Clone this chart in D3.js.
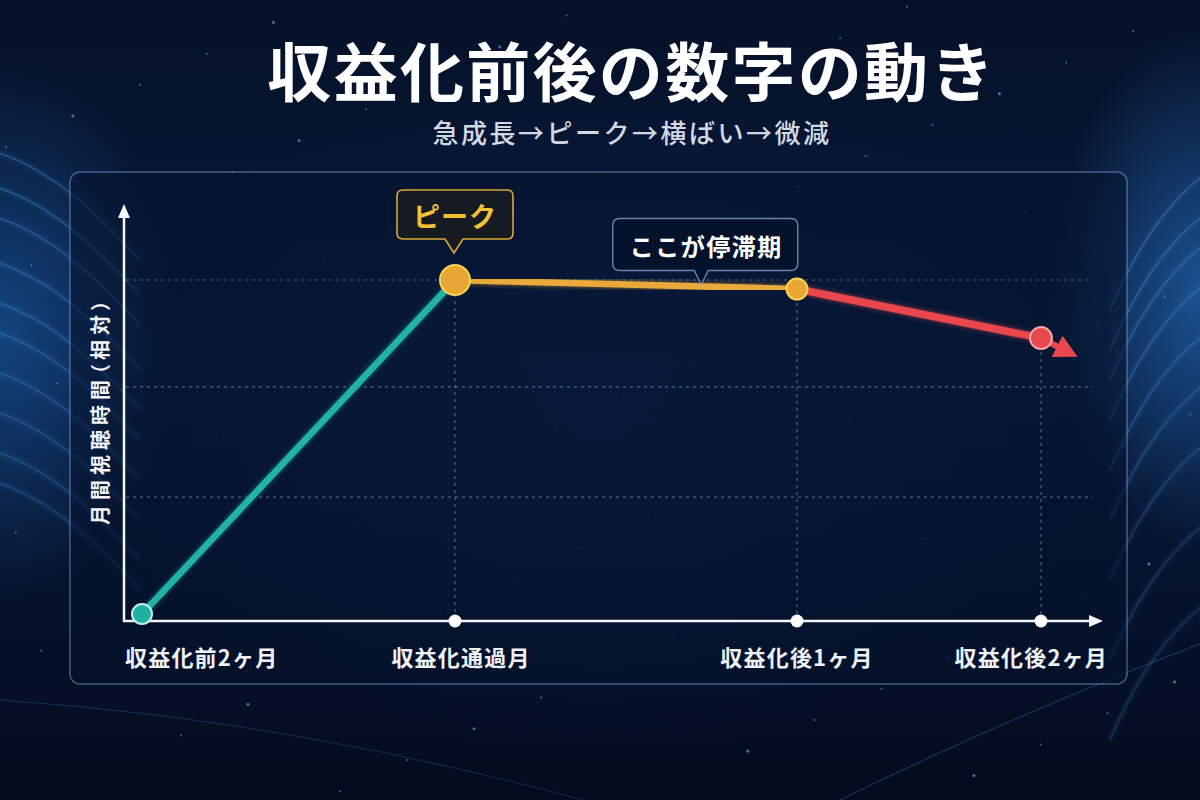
<!DOCTYPE html>
<html lang="ja">
<head>
<meta charset="utf-8">
<script src="https://cdn.jsdelivr.net/npm/d3@7/dist/d3.min.js"></script>
<style>
  html, body { margin: 0; padding: 0; background: #050e24; }
  svg { display: block; }
  text { font-family: "Noto Sans CJK JP", "Noto Sans", sans-serif; }
</style>
</head>
<body>
<svg id="chart" width="1200" height="800"></svg>
<script>
// ---------------- data ----------------
const categories = ["収益化前2ヶ月", "収益化通過月", "収益化後1ヶ月", "収益化後2ヶ月"];
const values = [0, 100, 97.3, 82.6];          // 月間視聴時間（相対）
const trendValue = 77;                         // where the downward arrow points
const gridValues = [35, 68, 100];
const segmentColors = ["#20b2a6", "#eaa93b", "#e8474d"];
const pointFills = ["#1fb0a4", "#e8a634", "#e8a634", "#e64a50"];
const pointStrokes = ["#c4eeea", "#f8d35a", "#f8d35a", "#f7a5a5"];
const title = "収益化前後の数字の動き";
const subtitle = "急成長→ピーク→横ばい→微減";
const yLabel = "月間視聴時間（相対）";
const peakLabel = "ピーク";
const plateauLabel = "ここが停滞期";

// ---------------- setup ----------------
const W = 1200, H = 800;
const svg = d3.select("#chart");
const defs = svg.append("defs");

const x = d3.scaleLinear().domain([0, 1, 2, 3]).range([142, 455, 797, 1041]);
const y = d3.scaleLinear().domain([0, 100]).range([614, 280]);
const axisY = 621, axisX = 124;

// ---------------- background ----------------
const bg = defs.append("linearGradient").attr("id", "bg").attr("x1", 0).attr("y1", 0).attr("x2", 0).attr("y2", 1);
bg.append("stop").attr("offset", "0%").attr("stop-color", "#061128");
bg.append("stop").attr("offset", "45%").attr("stop-color", "#081a3b");
bg.append("stop").attr("offset", "100%").attr("stop-color", "#040b1e");
svg.append("rect").attr("width", W).attr("height", H).attr("fill", "url(#bg)");

function radial(id, color, op) {
  const g = defs.append("radialGradient").attr("id", id);
  g.append("stop").attr("offset", "0%").attr("stop-color", color).attr("stop-opacity", op);
  g.append("stop").attr("offset", "100%").attr("stop-color", color).attr("stop-opacity", 0);
}
radial("glowL", "#1f6fc4", 0.5);
radial("glowR", "#2a7fd6", 0.55);
radial("glowC", "#0f2a5a", 0.5);
svg.append("ellipse").attr("cx", 600).attr("cy", 420).attr("rx", 520).attr("ry", 330).attr("fill", "url(#glowC)");
svg.append("ellipse").attr("cx", 0).attr("cy", 330).attr("rx", 180).attr("ry", 270).attr("fill", "url(#glowL)");
svg.append("ellipse").attr("cx", 1200).attr("cy", 290).attr("rx", 150).attr("ry", 260).attr("fill", "url(#glowR)");

const blur = defs.append("filter").attr("id", "blur").attr("x", "-20%").attr("y", "-20%").attr("width", "140%").attr("height", "140%");
blur.append("feGaussianBlur").attr("stdDeviation", 2.2);

const streaks = svg.append("g");
// left streaks
[150, 185, 215, 260, 300, 330, 370, 410, 450, 480].forEach((y0, i) => {
  const p = `M -10 ${y0} C 40 ${y0 + 15}, 80 ${y0 + 45}, 140 ${y0 + 110}`;
  streaks.append("path").attr("d", p).attr("fill", "none")
    .attr("stroke", "#4aa3ff").attr("stroke-width", 3).attr("opacity", 0.2).attr("filter", "url(#blur)");
  streaks.append("path").attr("d", p).attr("fill", "none")
    .attr("stroke", "#7cc0ff").attr("stroke-width", 0.9).attr("opacity", 0.4 - i * 0.02);
});
// right streaks
[170, 210, 240, 280, 330, 380, 440, 520, 600].forEach((y0, i) => {
  const p = `M 1210 ${y0} C 1170 ${y0 + 30}, 1140 ${y0 + 70}, 1110 ${y0 + 140}`;
  streaks.append("path").attr("d", p).attr("fill", "none")
    .attr("stroke", "#4aa3ff").attr("stroke-width", 3).attr("opacity", 0.2).attr("filter", "url(#blur)");
  streaks.append("path").attr("d", p).attr("fill", "none")
    .attr("stroke", "#80c4ff").attr("stroke-width", 0.9).attr("opacity", 0.4 - i * 0.025);
});
// faint bottom arcs
streaks.append("path").attr("d", "M 0 700 Q 300 720 620 810").attr("fill", "none")
  .attr("stroke", "#3d7fd0").attr("stroke-width", 1).attr("opacity", 0.3);
streaks.append("path").attr("d", "M 820 810 Q 1000 720 1210 640").attr("fill", "none")
  .attr("stroke", "#3d7fd0").attr("stroke-width", 1.2).attr("opacity", 0.35);

// stars (deterministic low-discrepancy scatter, decoration only)
const stars = svg.append("g");
for (let k = 1; k <= 90; k++) {
  const sx = ((k * 0.6180339887) % 1) * W;
  const sy = ((k * 0.7548776662) % 1) * H;
  const inPanel = sx > 70 && sx < 1127 && sy > 172 && sy < 684;
  stars.append("circle").attr("cx", sx).attr("cy", sy)
    .attr("r", (k % 3 === 0) ? 1.6 : 1)
    .attr("fill", "#6fb6ff").attr("opacity", inPanel ? 0.18 : 0.55);
}

// ---------------- titles ----------------
svg.append("text").attr("x", 632).attr("y", 68)
  .attr("text-anchor", "middle").attr("dominant-baseline", "central")
  .attr("font-size", 64).attr("font-weight", 700).attr("letter-spacing", 2.3)
  .attr("fill", "#ffffff")
  .text(title);
svg.append("text").attr("x", 632).attr("y", 131)
  .attr("text-anchor", "middle").attr("dominant-baseline", "central")
  .attr("font-size", 26).attr("font-weight", 500).attr("letter-spacing", 2.5)
  .attr("fill", "#d3d9e4")
  .text(subtitle);

// ---------------- panel ----------------
svg.append("rect").attr("x", 70).attr("y", 172).attr("width", 1057).attr("height", 512).attr("rx", 10)
  .attr("fill", "rgba(6,18,44,0.55)").attr("stroke", "rgba(135,165,215,0.5)").attr("stroke-width", 1.5);

const plot = svg.append("g");

// horizontal dashed grid
plot.selectAll(".grid").data(gridValues).join("line")
  .attr("x1", axisX + 2).attr("x2", 1093)
  .attr("y1", d => y(d)).attr("y2", d => y(d))
  .attr("stroke", "rgba(150,175,215,0.5)").attr("stroke-width", 1.2).attr("stroke-dasharray", "3 4");

// vertical dashed guides
plot.selectAll(".vguide").data(values.slice(1)).join("line")
  .attr("x1", (d, i) => x(i + 1)).attr("x2", (d, i) => x(i + 1))
  .attr("y1", d => y(d)).attr("y2", axisY)
  .attr("stroke", "rgba(150,175,215,0.5)").attr("stroke-width", 1.2).attr("stroke-dasharray", "3 4");

// axes
plot.append("line").attr("x1", axisX).attr("x2", axisX).attr("y1", axisY + 1).attr("y2", 216)
  .attr("stroke", "#f4f6fa").attr("stroke-width", 2.5);
plot.append("path").attr("d", `M ${axisX} 204 L ${axisX - 6} 218 L ${axisX + 6} 218 Z`).attr("fill", "#f4f6fa");
plot.append("line").attr("x1", axisX - 1).attr("x2", 1091).attr("y1", axisY).attr("y2", axisY)
  .attr("stroke", "#f4f6fa").attr("stroke-width", 2.5);
plot.append("path").attr("d", `M 1103 ${axisY} L 1089 ${axisY - 6} L 1089 ${axisY + 6} Z`).attr("fill", "#f4f6fa");

// line glow
const lglow = defs.append("filter").attr("id", "lglow").attr("x", "-10%").attr("y", "-10%").attr("width", "120%").attr("height", "120%");
lglow.append("feGaussianBlur").attr("in", "SourceGraphic").attr("stdDeviation", 2.5).attr("result", "b");
lglow.append("feComponentTransfer").attr("in", "b").attr("result", "b2")
  .append("feFuncA").attr("type", "linear").attr("slope", 0.6);
const merge = lglow.append("feMerge");
merge.append("feMergeNode").attr("in", "b2");
merge.append("feMergeNode").attr("in", "SourceGraphic");

// segments
const segs = d3.range(values.length - 1).map(i => ({ i, v0: values[i], v1: values[i + 1] }));
plot.selectAll(".seg").data(segs).join("line")
  .attr("x1", d => x(d.i)).attr("y1", d => y(d.v0))
  .attr("x2", d => x(d.i + 1)).attr("y2", d => y(d.v1))
  .attr("stroke", d => segmentColors[d.i]).attr("stroke-width", d => d.i === 2 ? 7.5 : 6.5)
  .attr("stroke-linecap", "round")
  .attr("filter", "url(#lglow)");

// trend arrow after last point
const last = values.length - 1;
const px = x(last), py = y(values[last]);
const tx = x(last + 0.15), ty = y(trendValue);
const ang = Math.atan2(ty - py, tx - px);
const headLen = 23, headHalf = 12;
const bx = tx - headLen * Math.cos(ang), by = ty - headLen * Math.sin(ang);
plot.append("line").attr("x1", px).attr("y1", py).attr("x2", bx + 2 * Math.cos(ang)).attr("y2", by + 2 * Math.sin(ang))
  .attr("stroke", segmentColors[2]).attr("stroke-width", 6);
plot.append("path").attr("d",
  `M ${tx} ${ty} L ${bx + headHalf * Math.sin(ang)} ${by - headHalf * Math.cos(ang)} L ${bx - headHalf * Math.sin(ang)} ${by + headHalf * Math.cos(ang)} Z`)
  .attr("fill", segmentColors[2]);

// tick dots on x axis
plot.selectAll(".tick").data(categories.slice(1)).join("circle")
  .attr("cx", (d, i) => x(i + 1)).attr("cy", axisY).attr("r", 6.5).attr("fill", "#ffffff");

// points
const radii = [10, 15, 10.5, 11];
plot.selectAll(".pt").data(values).join("circle")
  .attr("cx", (d, i) => x(i)).attr("cy", d => y(d))
  .attr("r", (d, i) => radii[i])
  .attr("fill", (d, i) => pointFills[i]).attr("stroke", (d, i) => pointStrokes[i]).attr("stroke-width", 2);

// x labels
const labelAnchor = ["start", "middle", "middle", "end"];
const labelX = (i) => i === 0 ? axisX + 1 : i === 3 ? 1108 : x(i) + (i === 1 ? 6 : 0);
plot.selectAll(".xl").data(categories).join("text")
  .attr("x", (d, i) => labelX(i)).attr("y", 656)
  .attr("text-anchor", (d, i) => labelAnchor[i]).attr("dominant-baseline", "central")
  .attr("font-size", 22).attr("font-weight", 700).attr("letter-spacing", 1.2)
  .attr("fill", "#eef2f8")
  .text(d => d);

// y label
svg.append("text").attr("transform", "translate(99,410) rotate(-90)")
  .attr("text-anchor", "middle").attr("dominant-baseline", "central")
  .attr("font-size", 20).attr("font-weight", 700).attr("letter-spacing", 5)
  .style("font-feature-settings", "'palt'")
  .attr("fill", "#f2f4f8").text(yLabel);

// ---------------- callouts ----------------
function calloutPath(cx, top, w, h, r, tipX, tipY, pw) {
  const l = cx - w / 2, rt = cx + w / 2, b = top + h;
  return `M ${l + r} ${top} H ${rt - r} Q ${rt} ${top} ${rt} ${top + r} V ${b - r} Q ${rt} ${b} ${rt - r} ${b}
          H ${tipX + pw} L ${tipX} ${tipY} L ${tipX - pw} ${b} H ${l + r} Q ${l} ${b} ${l} ${b - r} V ${top + r} Q ${l} ${top} ${l + r} ${top} Z`;
}

// peak callout
const pkX = x(1), pkTip = y(values[1]) - 27;
svg.append("path").attr("d", calloutPath(pkX, pkTip - 63, 116, 49, 6, pkX - 1, pkTip, 9))
  .attr("fill", "rgba(24,28,32,0.9)").attr("stroke", "#d8a93a").attr("stroke-width", 1.6);
svg.append("text").attr("x", pkX).attr("y", pkTip - 63 + 25)
  .attr("text-anchor", "middle").attr("dominant-baseline", "central")
  .attr("font-size", 27).attr("font-weight", 700).attr("letter-spacing", 1)
  .attr("fill", "#f3c03a").text(peakLabel);

// plateau callout
const plIdx = 1.72;
const plX = x(plIdx);
const plY = y(values[1] + (values[2] - values[1]) * (plIdx - 1)) - 2;
svg.append("path").attr("d", calloutPath(plX + 4, plY - 66, 185, 52, 7, plX, plY, 7))
  .attr("fill", "rgba(6,18,42,0.88)").attr("stroke", "rgba(140,168,210,0.75)").attr("stroke-width", 1.4);
svg.append("text").attr("x", plX + 5).attr("y", plY - 66 + 27)
  .attr("text-anchor", "middle").attr("dominant-baseline", "central")
  .attr("font-size", 24).attr("font-weight", 700).attr("letter-spacing", 1.5)
  .attr("fill", "#ffffff").text(plateauLabel);
</script>
</body>
</html>
